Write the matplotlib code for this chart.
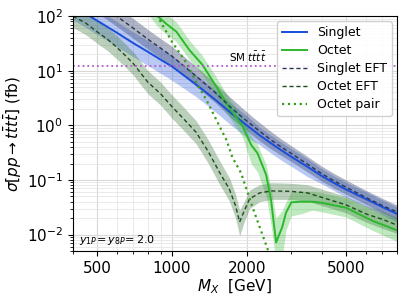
import matplotlib.pyplot as plt
from matplotlib.ticker import FixedLocator, NullFormatter

# mass points (GeV)
m_singlet = [400, 500, 600, 700, 800, 900, 1000, 1250, 1500, 1750, 2000, 2250, 2500,
             2750, 3000, 3500, 4000, 4500, 5000, 6000, 7000, 8000]
# singlet (full)
xs_singlet = [154, 83, 50, 32, 22.3, 16, 12, 5.6, 2.9, 1.6, 1.0, 0.66, 0.47,
              0.35, 0.27, 0.175, 0.118, 0.087, 0.067, 0.045, 0.032, 0.024]
xs_singlet_lo = [86, 46.5, 28, 18, 12.5, 9, 6.7, 3.36, 1.74, 0.96, 0.6, 0.44, 0.31,
                 0.23, 0.18, 0.115, 0.085, 0.063, 0.048, 0.032, 0.023, 0.017]
xs_singlet_hi = [246, 133, 80, 51, 36, 25.6, 19.2, 8.4, 4.35, 2.4, 1.5, 0.92, 0.66,
                 0.49, 0.38, 0.245, 0.16, 0.117, 0.09, 0.061, 0.043, 0.032]
# singlet EFT
xs_singlet_eft = [330, 180, 100, 60, 38, 26, 18.5, 8, 3.9, 2.0, 1.2, 0.78, 0.54,
                  0.4, 0.31, 0.195, 0.13, 0.095, 0.074, 0.048, 0.034, 0.026]
xs_singlet_eft_lo = [215, 117, 65, 39, 25, 17, 12, 5.2, 2.55, 1.3, 0.8, 0.52, 0.37,
                     0.28, 0.22, 0.14, 0.095, 0.07, 0.055, 0.036, 0.025, 0.019]
xs_singlet_eft_hi = [500, 270, 150, 90, 57, 39, 28, 12, 5.8, 3.0, 1.75, 1.12, 0.77,
                     0.56, 0.43, 0.27, 0.178, 0.13, 0.1, 0.065, 0.046, 0.035]

# octet (full)
m_octet = [800, 875, 950, 1042, 1175, 1325, 1508, 1700, 1919, 2080, 2205, 2390, 2500,
           2620, 2775, 2870, 3015, 3300, 3663, 4020, 5000, 6370, 8000]
xs_octet = [170, 100, 72, 52, 24, 12.9, 5.1, 2.1, 0.98, 0.44, 0.31, 0.124, 0.043,
            0.0072, 0.0139, 0.025, 0.039, 0.040, 0.040, 0.038, 0.031, 0.018, 0.012]
xs_octet_lo = [110, 65, 47, 34, 16, 8.5, 3.4, 1.4, 0.62, 0.2, 0.14, 0.05, 0.015,
               0.003, 0.004, 0.012, 0.022, 0.024, 0.028, 0.026, 0.021, 0.012, 0.0075]
xs_octet_hi = [250, 150, 108, 78, 36, 19, 7.6, 3.1, 1.45, 0.62, 0.45, 0.19, 0.07,
               0.02, 0.028, 0.04, 0.06, 0.062, 0.062, 0.058, 0.047, 0.028, 0.019]

# octet EFT
m_octet_eft = [400, 450, 500, 550, 600, 650, 700, 750, 800, 900, 1000, 1100, 1250, 1400,
               1550, 1700, 1800, 1870, 1950, 2050, 2250, 2500, 3000, 3500, 4000, 5000,
               6000, 7000, 8000]
xs_octet_eft = [100, 75, 52, 38, 27, 19, 13.5, 9, 6.2, 3.8, 2.2, 1.4, 0.75, 0.33,
                0.14, 0.068, 0.034, 0.017, 0.027, 0.045, 0.058, 0.063, 0.062, 0.058,
                0.048, 0.035, 0.024, 0.019, 0.015]
xs_octet_eft_lo = [62, 46, 32, 23.5, 16.5, 11.7, 8.3, 5.5, 3.8, 2.35, 1.35, 0.86, 0.46,
                   0.2, 0.085, 0.041, 0.02, 0.0095, 0.017, 0.03, 0.04, 0.044, 0.044,
                   0.041, 0.034, 0.025, 0.017, 0.013, 0.0105]
xs_octet_eft_hi = [165, 123, 85, 62, 44, 31, 22, 14.7, 10.1, 6.2, 3.6, 2.3, 1.22, 0.54,
                   0.23, 0.11, 0.055, 0.028, 0.04, 0.065, 0.082, 0.089, 0.087, 0.082,
                   0.068, 0.05, 0.034, 0.027, 0.021]

# octet pair production
m_pair = [800, 891, 1005, 1143, 1254, 1375, 1508, 1655, 1749, 1895, 2105, 2416, 2600]
xs_pair = [200, 86, 32.7, 14, 6.0, 2.94, 1.26, 0.54, 0.26, 0.134, 0.032, 0.0056, 0.002]

sm_tttt = 12.0

fig, ax = plt.subplots(figsize=(4.07, 3.05), dpi=100)
fig.subplots_adjust(left=0.179, right=0.975, top=0.947, bottom=0.177)

c_s = '#1a4ddb'
c_o = '#2cb82c'
ax.fill_between(m_singlet, xs_singlet_lo, xs_singlet_hi, color=c_s, alpha=0.3, lw=0)
ax.fill_between(m_singlet, xs_singlet_eft_lo, xs_singlet_eft_hi, color='#3b4a72', alpha=0.4, lw=0)
ax.fill_between(m_octet, xs_octet_lo, xs_octet_hi, color=c_o, alpha=0.3, lw=0)
ax.fill_between(m_octet_eft, xs_octet_eft_lo, xs_octet_eft_hi, color='#3e7a3e', alpha=0.35, lw=0)

ax.plot(m_singlet, xs_singlet, color=c_s, lw=1.4, label='Singlet')
ax.plot(m_octet, xs_octet, color=c_o, lw=1.4, label='Octet')
ax.plot(m_singlet, xs_singlet_eft, color='#2a3456', lw=1.0, ls='--', dashes=(3, 2), label='Singlet EFT')
ax.plot(m_octet_eft, xs_octet_eft, color='#234a23', lw=1.0, ls='--', dashes=(3, 2), label='Octet EFT')
ax.plot(m_pair, xs_pair, color='#3c9c1c', lw=1.6, ls=':', label='Octet pair')

ax.axhline(sm_tttt, color='#b35ad0', ls=':', lw=1.3)
ax.text(1700, 13.3, r'SM $t\bar{t}t\bar{t}$', fontsize=7.5, va='bottom', ha='left')
ax.text(0.02, 0.035, r'$y_{1P}\!=y_{8P}\!=2.0$', transform=ax.transAxes, fontsize=8)

ax.set_xscale('log')
ax.set_yscale('log')
ax.set_xlim(400, 8000)
ax.set_ylim(5e-3, 100)
ax.xaxis.set_major_locator(FixedLocator([500, 1000, 2000, 5000]))
ax.set_xticklabels(['500', '1000', '2000', '5000'])
ax.xaxis.set_minor_formatter(NullFormatter())
ax.tick_params(labelsize=11)
ax.grid(which='major', color='#d8d8d8', lw=0.8)
ax.grid(which='minor', color='#e6e6e6', lw=0.6)
ax.set_axisbelow(True)

ax.set_xlabel(r'$M_X$  [GeV]', fontsize=11, labelpad=1)
ax.set_ylabel(r'$\sigma[pp \to t\bar{t}t\bar{t}]$ (fb)', fontsize=11, labelpad=2)
ax.legend(loc='upper right', fontsize=9, framealpha=0.9, borderaxespad=0.4,
          handlelength=2.0, labelspacing=0.4)

fig.savefig('out.png', dpi=100)
